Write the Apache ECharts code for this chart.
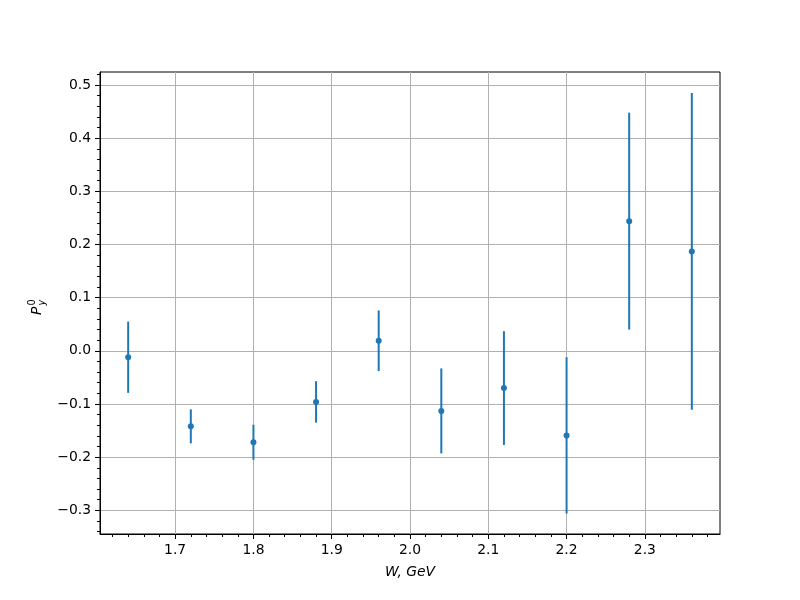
<!DOCTYPE html>
<html><head><meta charset="utf-8">
<script src="https://cdn.jsdelivr.net/npm/echarts@6/dist/echarts.min.js"></script>
<style>html,body{margin:0;padding:0;background:#fff}#c{width:800px;height:600px}</style>
</head><body><div id="c"></div>
<script>
const W = [1.64, 1.72, 1.80, 1.88, 1.96, 2.04, 2.12, 2.20, 2.28, 2.36];
const P = [-0.012, -0.142, -0.172, -0.096, 0.019, -0.113, -0.070, -0.159, 0.244, 0.187];
const ERR = [0.067, 0.032, 0.033, 0.039, 0.057, 0.080, 0.107, 0.147, 0.204, 0.298];
const xTicks = [1.7, 1.8, 1.9, 2.0, 2.1, 2.2, 2.3];
const xMinor = [1.62, 1.64, 1.66, 1.68, 1.72, 1.74, 1.76, 1.78, 1.82, 1.84, 1.86, 1.88,
  1.92, 1.94, 1.96, 1.98, 2.02, 2.04, 2.06, 2.08, 2.12, 2.14, 2.16, 2.18,
  2.22, 2.24, 2.26, 2.28, 2.32, 2.34, 2.36, 2.38];
const yTicks = [-0.3, -0.2, -0.1, 0.0, 0.1, 0.2, 0.3, 0.4, 0.5];
const yMinor = [-0.34, -0.32, -0.28, -0.26, -0.24, -0.22, -0.18, -0.16, -0.14, -0.12,
  -0.08, -0.06, -0.04, -0.02, 0.02, 0.04, 0.06, 0.08, 0.12, 0.14, 0.16, 0.18,
  0.22, 0.24, 0.26, 0.28, 0.32, 0.34, 0.36, 0.38, 0.42, 0.44, 0.46, 0.48, 0.52];
const xRange = [1.604, 2.396];
const yRange = [-0.3445, 0.5245];

const FONT = 'DejaVu Sans';
const BLUE = '#1f77b4';
const fmt = v => (v < 0 ? '\u2212' : '') + Math.abs(v).toFixed(1);

const chart = echarts.init(document.getElementById('c'), null, {renderer: 'canvas'});
const axisBase = {
  type: 'value',
  axisLine: {show: true, onZero: false, lineStyle: {color: '#000', width: 1}},
  splitLine: {show: false},
};
chart.setOption({
  animation: false,
  backgroundColor: '#fff',
  grid: {left: 100, right: 80, top: 72, bottom: 66, show: true, borderColor: '#000', borderWidth: 1, backgroundColor: 'transparent'},
  xAxis: [
    Object.assign({}, axisBase, {
      min: xRange[0], max: xRange[1], position: 'bottom',
      axisTick: {show: true, customValues: xTicks, length: 5, lineStyle: {color: '#000', width: 1}},
      axisLabel: {customValues: xTicks, formatter: fmt, margin: 9, fontFamily: FONT, fontSize: 13.9, color: '#000'},
      splitLine: {show: true, lineStyle: {color: '#b0b0b0', width: 1}},
      name: 'W, GeV', nameLocation: 'middle', nameGap: 31,
      nameTextStyle: {fontFamily: FONT, fontStyle: 'italic', fontSize: 13.9, color: '#000'}
    }),
    Object.assign({}, axisBase, {
      min: xRange[0], max: xRange[1], position: 'bottom',
      axisLine: {show: false, onZero: false},
      axisTick: {show: true, customValues: xMinor, length: 3, lineStyle: {color: '#000', width: 1}},
      axisLabel: {show: false}
    })
  ],
  yAxis: [
    Object.assign({}, axisBase, {
      min: yRange[0], max: yRange[1], position: 'left',
      axisTick: {show: true, customValues: yTicks, length: 5, lineStyle: {color: '#000', width: 1}},
      axisLabel: {customValues: yTicks, formatter: fmt, margin: 9, fontFamily: FONT, fontSize: 13.9, color: '#000'},
      splitLine: {show: true, lineStyle: {color: '#b0b0b0', width: 1}}
    }),
    Object.assign({}, axisBase, {
      min: yRange[0], max: yRange[1], position: 'left',
      axisLine: {show: false, onZero: false},
      axisTick: {show: true, customValues: yMinor, length: 3, lineStyle: {color: '#000', width: 1}},
      axisLabel: {show: false}
    })
  ],
  graphic: [{
    type: 'group', x: 44, y: 303, rotation: Math.PI / 2,
    children: [
      {type: 'text', x: -12, y: 0, style: {text: 'P', font: 'italic 13.9px "DejaVu Sans"', fill: '#000', verticalAlign: 'bottom', align: 'left'}},
      {type: 'text', x: -2.5, y: -7, style: {text: '0', font: '9.7px "DejaVu Sans"', fill: '#000', verticalAlign: 'bottom', align: 'left'}},
      {type: 'text', x: -2.5, y: 3, style: {text: 'y', font: 'italic 9.7px "DejaVu Sans"', fill: '#000', verticalAlign: 'bottom', align: 'left'}}
    ]
  }],
  series: [
    {
      type: 'custom', xAxisIndex: 0, yAxisIndex: 0,
      data: W.map((w, i) => [w, P[i] - ERR[i], P[i] + ERR[i]]),
      encode: {x: 0, y: [1, 2]},
      renderItem: (params, api) => {
        const a = api.coord([api.value(0), api.value(1)]);
        const b = api.coord([api.value(0), api.value(2)]);
        return {type: 'line', shape: {x1: a[0], y1: a[1], x2: b[0], y2: b[1]},
          style: {stroke: BLUE, lineWidth: 2, opacity: 1}};
      },
      z: 3
    },
    {
      type: 'scatter', xAxisIndex: 0, yAxisIndex: 0,
      data: W.map((w, i) => [w, P[i]]),
      symbol: 'circle', symbolSize: 6,
      itemStyle: {color: BLUE, opacity: 1},
      z: 4
    }
  ]
});
</script>
</body></html>
